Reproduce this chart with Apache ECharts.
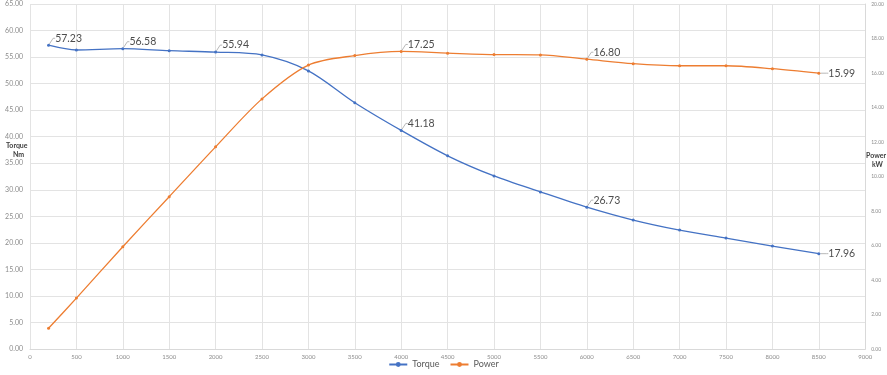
<!DOCTYPE html>
<html><head><meta charset="utf-8">
<script src="https://cdn.jsdelivr.net/npm/echarts@6/dist/echarts.min.js"></script>
<style>html,body{margin:0;padding:0;background:#fff}#c{width:887px;height:375px}</style>
</head><body><div id="c"></div>
<script>
const rpm = [200, 500, 1000, 1500, 2000, 2500, 3000, 3500, 4000, 4500, 5000, 5500, 6000, 6500, 7000, 7500, 8000, 8500];
const torque = [57.23, 56.33, 56.58, 56.2, 55.94, 55.4, 52.4, 46.4, 41.18, 36.4, 32.6, 29.6, 26.73, 24.3, 22.4, 20.9, 19.4, 17.96];
const power = [1.20, 2.95, 5.93, 8.83, 11.72, 14.50, 16.46, 17.01, 17.25, 17.15, 17.07, 17.05, 16.80, 16.54, 16.42, 16.42, 16.25, 15.99];
const torqueLabelIdx = [0, 2, 4, 8, 12, 17];
const powerLabelIdx = [8, 12, 17];
const seriesNames = ['Torque', 'Power'];

const FONT = 'Lato';
function build(vals, labelIdx, lastIdx) {
  return rpm.map((x, i) => {
    const item = { value: [x, vals[i]] };
    if (labelIdx.includes(i)) {
      item.label = { show: true, position: i === lastIdx ? 'right' : 'top' };
    }
    return item;
  });
}
const chart = echarts.init(document.getElementById('c'));
const labelStyle = { color: '#4d4d4d', fontSize: 10.5, fontFamily: FONT, formatter: p => p.value[1].toFixed(2) };
const layoutFn = p => p.dataIndex === 17 ? { dx: 3, dy: 0 } : { dx: 20, dy: 5 };
chart.setOption({
  animation: false,
  textStyle: { fontFamily: FONT },
  grid: { left: 30, right: 20, top: 4, bottom: 26 },
  legend: {
    bottom: 1, left: 'center', itemWidth: 18, itemHeight: 6, itemGap: 10,
    textStyle: { color: '#595959', fontSize: 9, fontFamily: FONT },
    data: seriesNames
  },
  xAxis: {
    type: 'value', min: 0, max: 9000, interval: 500,
    axisLine: { show: true, lineStyle: { color: '#d9d9d9' } },
    axisTick: { show: false },
    axisLabel: { color: '#8c8c8c', fontSize: 6, fontFamily: FONT, margin: 5, formatter: v => String(v) },
    splitLine: { show: true, lineStyle: { color: '#e3e3e3', width: 1 } }
  },
  yAxis: [
    {
      type: 'value', min: 0, max: 65, interval: 5,
      axisLine: { show: false }, axisTick: { show: false },
      axisLabel: { color: '#8c8c8c', fontSize: 7, fontFamily: FONT, formatter: v => v.toFixed(2), margin: 7 },
      splitLine: { show: true, lineStyle: { color: '#e3e3e3', width: 1 } }
    },
    {
      type: 'value', min: 0, max: 20, interval: 2,
      axisLine: { show: true, lineStyle: { color: '#d9d9d9' } }, axisTick: { show: false },
      axisLabel: { color: '#8c8c8c', fontSize: 5, fontFamily: FONT, formatter: v => v.toFixed(2), margin: 6 },
      splitLine: { show: false }
    }
  ],
  graphic: [
    { type: 'text', left: 6, top: 142, style: { text: 'Torque', font: 'bold 7px Lato', fill: '#404040' } },
    { type: 'text', left: 13, top: 151, style: { text: 'Nm', font: 'bold 7px Lato', fill: '#404040' } },
    { type: 'text', left: 866, top: 152, style: { text: 'Power', font: 'bold 7px Lato', fill: '#404040' } },
    { type: 'text', left: 872, top: 161, style: { text: 'kW', font: 'bold 7px Lato', fill: '#404040' } }
  ],
  series: [
    {
      name: seriesNames[0], type: 'line', yAxisIndex: 0, smooth: 0.3,
      data: build(torque, torqueLabelIdx, 17),
      symbol: 'circle', symbolSize: 3,
      itemStyle: { color: '#4472C4' }, lineStyle: { color: '#4472C4', width: 1.3 },
      label: Object.assign({ show: false }, labelStyle),
      labelLine: { show: true, length2: 2, lineStyle: { color: '#a6a6a6', width: 0.8 } },
      labelLayout: layoutFn
    },
    {
      name: seriesNames[1], type: 'line', yAxisIndex: 1, smooth: 0.3,
      data: build(power, powerLabelIdx, 17),
      symbol: 'circle', symbolSize: 3,
      itemStyle: { color: '#ED7D31' }, lineStyle: { color: '#ED7D31', width: 1.3 },
      label: Object.assign({ show: false }, labelStyle),
      labelLine: { show: true, length2: 2, lineStyle: { color: '#a6a6a6', width: 0.8 } },
      labelLayout: layoutFn
    }
  ]
});
</script></body></html>
